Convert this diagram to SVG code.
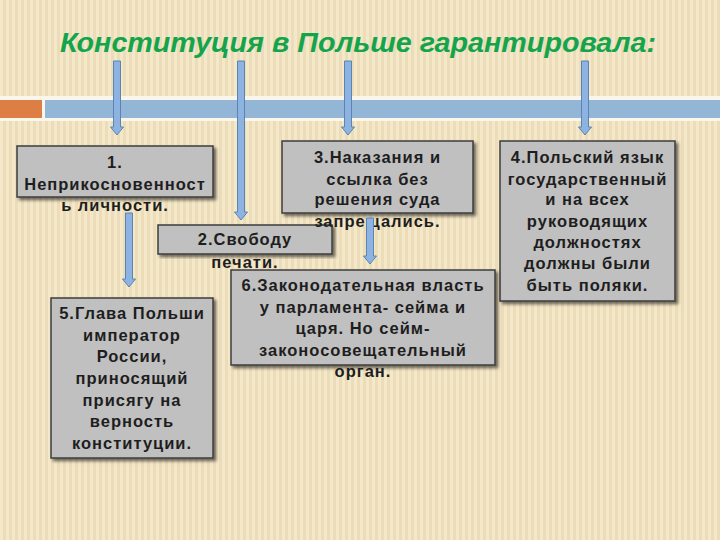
<svg xmlns="http://www.w3.org/2000/svg" width="720" height="540" viewBox="0 0 720 540">
<defs>
<pattern id="stripes" width="6" height="10" patternUnits="userSpaceOnUse">
<rect width="6" height="10" fill="#ecdcb8"/>
<rect width="3" height="10" fill="#f4e8cb"/>
</pattern>
<filter id="sh" x="-10%" y="-10%" width="125%" height="125%">
<feDropShadow dx="2.5" dy="2.5" stdDeviation="1.5" flood-color="#000" flood-opacity="0.55"/>
</filter>
<style>
.box{fill:#c0c0c0;stroke:#3c3c3c;stroke-width:1.5;filter:url(#sh)}
.t{font-family:"Liberation Sans",Arial,sans-serif;font-weight:bold;font-size:16.5px;letter-spacing:1px;fill:#1e1e1e;text-anchor:middle}
.arr{fill:#8db3e2;stroke:#5b84b1;stroke-width:1}
.title{font-family:"Liberation Sans",Arial,sans-serif;font-weight:bold;font-style:italic;font-size:28px;fill:#14a44b;text-anchor:middle}
</style>
</defs>
<rect width="720" height="540" fill="url(#stripes)"/>
<g id="band">
<rect x="0" y="96" width="720" height="25" fill="#fbf6ec"/>
<rect x="0" y="100" width="42" height="18" fill="#dd7f45"/>
<rect x="45" y="100" width="675" height="18" fill="#93b5d6"/>
</g>
<g id="title">
<text class="title" x="358" y="52" textLength="596" lengthAdjust="spacingAndGlyphs">Конституция в Польше гарантировала:</text>
</g>
<g id="n1">
<rect class="box" x="17" y="146" width="196" height="51"/>
<text class="t" x="115" y="168">1.</text>
<text class="t" x="115" y="189.5">Неприкосновенност</text>
<text class="t" x="115" y="211">ь личности.</text>
</g>
<g id="n2">
<rect class="box" x="158" y="225" width="174" height="29"/>
<text class="t" x="245" y="245">2.Свободу</text>
<text class="t" x="245" y="268">печати.</text>
</g>
<g id="n3">
<rect class="box" x="282" y="141" width="191" height="72"/>
<text class="t" x="377.5" y="163">3.Наказания и</text>
<text class="t" x="377.5" y="184.5">ссылка без</text>
<text class="t" x="377.5" y="205">решения суда</text>
<text class="t" x="377.5" y="226.5">запрещались.</text>
</g>
<g id="n4">
<rect class="box" x="500" y="141" width="175" height="160"/>
<text class="t" x="587.5" y="163">4.Польский язык</text>
<text class="t" x="587.5" y="184.5">государственный</text>
<text class="t" x="587.5" y="205">и на всех</text>
<text class="t" x="587.5" y="226.5">руководящих</text>
<text class="t" x="587.5" y="248">должностях</text>
<text class="t" x="587.5" y="269">должны были</text>
<text class="t" x="587.5" y="290.5">быть поляки.</text>
</g>
<g id="n5">
<rect class="box" x="51" y="298" width="162" height="160"/>
<text class="t" x="132" y="319">5.Глава Польши</text>
<text class="t" x="132" y="340.5">император</text>
<text class="t" x="132" y="362">России,</text>
<text class="t" x="132" y="384">приносящий</text>
<text class="t" x="132" y="405.5">присягу на</text>
<text class="t" x="132" y="427">верность</text>
<text class="t" x="132" y="448.5">конституции.</text>
</g>
<g id="n6">
<rect class="box" x="231" y="270" width="264" height="95"/>
<text class="t" x="363" y="291">6.Законодательная власть</text>
<text class="t" x="363" y="312.5">у парламента- сейма и</text>
<text class="t" x="363" y="334">царя. Но сейм-</text>
<text class="t" x="363" y="355.5">законосовещательный</text>
<text class="t" x="363" y="377">орган.</text>
</g>
<g id="connectors">
<path class="arr" d="M113.5,61 H120.5 V127 H123.5 L117,135 L110.5,127 H113.5 Z"/>
<path class="arr" d="M237.5,61 H244.5 V212 H247.5 L241,220 L234.5,212 H237.5 Z"/>
<path class="arr" d="M344.5,61 H351.5 V127 H354.5 L348,135 L341.5,127 H344.5 Z"/>
<path class="arr" d="M581.5,61 H588.5 V127 H591.5 L585,135 L578.5,127 H581.5 Z"/>
<path class="arr" d="M125.5,213 H132.5 V279 H135.5 L129,287 L122.5,279 H125.5 Z"/>
<path class="arr" d="M366.5,218 H373.5 V256 H376.5 L370,264 L363.5,256 H366.5 Z"/>
</g>
</svg>
